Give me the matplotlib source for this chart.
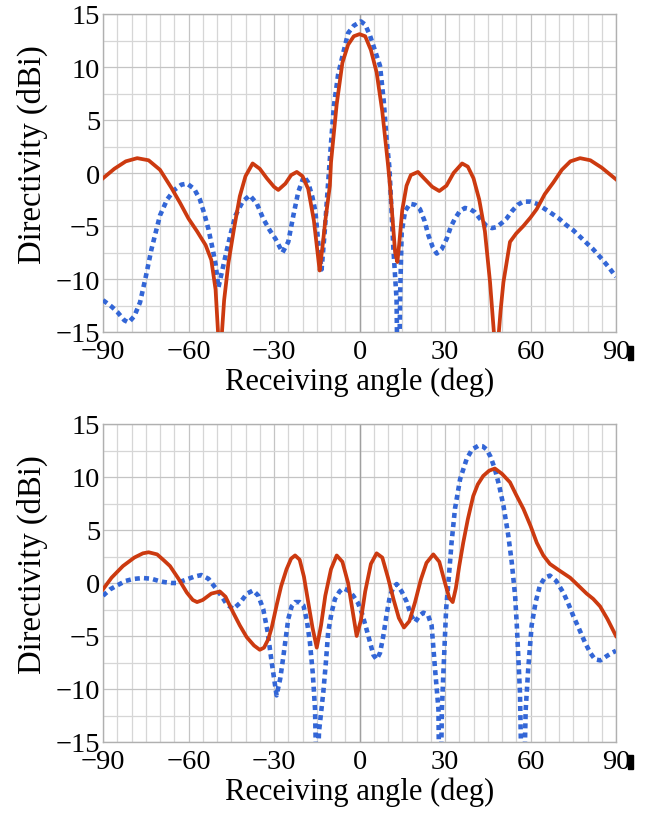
import matplotlib
matplotlib.use("Agg")
import matplotlib.pyplot as plt
from matplotlib.patches import Rectangle
from matplotlib.ticker import MultipleLocator

plt.rcParams["font.family"] = ["Liberation Serif", "DejaVu Serif"]
plt.rcParams["axes.unicode_minus"] = True

# ---- upper panel: broadside beam ----
top_red_ang = [-90, -86, -82, -78, -74, -70, -66, -63, -60, -57, -54, -52, -50.5, -49,
               -47.5, -46, -44, -42, -40, -37.5, -35, -32.5, -30, -28.5, -26, -24, -22,
               -20, -18, -16, -14.5, -14, -13, -12, -10.4, -10, -8, -6, -4, -2, 0,
               2, 4, 6, 8, 10, 10.7, 11.5, 12.5, 13.3, 14, 15, 16.5, 18, 20.5, 23, 25.5,
               28, 30.5, 33, 36, 38, 40, 42, 44, 45.8, 48, 49.5, 50.5, 52.8, 55, 57.5,
               60, 62.2, 65, 68, 71, 74, 77.4, 81, 85, 90]
top_red_val = [-0.5, 0.4, 1.1, 1.4, 1.2, 0.3, -1.4, -2.8, -4.3, -5.5, -6.8, -8.2, -11, -18,
               -12, -8.5, -5.2, -2.2, -0.3, 0.9, 0.4, -0.5, -1.3, -1.6, -1.0, -0.2, 0.1,
               -0.3, -1.5, -4.5, -8.0, -9.2, -7.0, -4.5, -1.2, 1.0, 6.5, 10.4, 12.1, 12.9, 13.1,
               12.9, 11.6, 9.5, 5.8, 0.8, -1.2, -4.0, -7.5, -8.4, -6.5, -3.5, -1.2, -0.2, 0.1,
               -0.6, -1.3, -1.7, -1.2, 0.0, 0.9, 0.6, -0.5, -2.5, -5.5, -10.3, -18, -13,
               -10.3, -6.5, -5.7, -5.0, -4.2, -3.4, -2.0, -0.9, 0.3, 1.1, 1.4, 1.2, 0.5, -0.6]

top_blue_ang = [-90, -87, -85, -82.5, -81, -79, -77, -75, -73, -70, -67.5, -65, -62.5, -60.5,
                -58, -56, -54.5, -53, -51.5, -50.5, -49.5, -48, -46.5, -45, -43.5, -41,
                -38.5, -36, -33.8, -31.5, -29.5, -27, -25, -23.2, -21.5, -19.5, -18, -16.5,
                -15.5, -14.5, -13.3, -12.2, -11, -10, -9, -7.5, -6, -4, -2, 0.5, 2, 3.7,
                5.5, 7.2, 8.5, 9.5, 10.5, 11.9, 13, 13.6, 14.3, 14.8, 16, 17.7, 19.5, 21.2,
                22.8, 24.2, 25.7, 27.1, 28.8, 30.6, 32, 33.5, 35.2, 37, 38.8, 40.5, 42.5,
                44.6, 46.5, 48.1, 50, 51.6, 53.5, 55.5, 57.5, 60, 62.2, 64.5, 66.8, 70,
                72.5, 75, 78.5, 82, 85, 87.5, 90]
top_blue_val = [-12.0, -12.6, -13.1, -13.9, -14.1, -13.5, -12.2, -9.8, -7.2, -4.0, -2.5, -1.6,
                -1.1, -1.0, -1.5, -2.5, -3.8, -5.3, -7.2, -8.6, -10.8, -9.0, -7.2, -5.5,
                -4.0, -2.7, -2.1, -2.9, -4.3, -5.4, -6.2, -7.5, -6.5, -4.0, -1.8, -0.3,
                -0.9, -2.3, -3.6, -6.5, -9.1, -5.5, -0.9, 2.8, 6.3, 9.3, 11.0, 13.2, 13.9,
                14.3, 14.0, 12.95, 11.5, 10.1, 6.8, 3.2, 0.5, -7.2, -11.9, -25, -11, -5.6,
                -3.6, -2.9, -3.0, -3.4, -4.5, -5.9, -7.0, -7.6, -7.2, -6.2, -5.1, -4.3,
                -3.6, -3.3, -3.4, -3.7, -4.4, -5.0, -5.2, -5.1, -4.7, -4.3, -3.6, -3.0,
                -2.7, -2.7, -2.9, -3.3, -3.7, -4.3, -4.9, -5.4, -6.3, -7.2, -8.1, -8.9, -9.8]

# ---- lower panel: steered beam ----
bot_red_ang = [-90, -87, -83, -79, -76, -74, -71, -68.5, -66.5, -63.5, -60.6, -58.5, -57, -55,
               -52, -49, -47, -44.3, -42, -39.6, -37, -35, -33.5, -32, -30.8, -29, -27.5,
               -25.6, -24, -22.6, -21, -19.5, -18, -16.5, -15, -13.5, -12, -10, -8, -6, -4,
               -2.5, -1, 0.5, 2, 4, 6, 8, 10, 12, 13.8, 15.6, 17.5, 19.5, 21.5, 23.5, 25.9,
               28, 30, 31.5, 32.7, 33.8, 35, 36.4, 38, 39.9, 41.5, 43.4, 45.5, 47.5, 50,
               52.8, 55, 57.5, 60, 62.2, 64.5, 66.8, 70, 73.9, 77, 79.7, 82, 84.4, 87, 90]
bot_red_val = [-0.6, 0.5, 1.6, 2.4, 2.8, 2.9, 2.7, 2.1, 1.6, 0.4, -0.9, -1.6, -1.8, -1.6,
               -1.0, -0.8, -1.3, -2.8, -4.0, -5.1, -5.9, -6.3, -6.1, -5.3, -4.2, -2.0, -0.3,
               1.3, 2.3, 2.6, 2.2, 0.6, -1.8, -4.2, -6.1, -4.0, -1.2, 1.3, 2.6, 2.0, 0.0,
               -2.5, -5.0, -3.5, -0.8, 1.8, 2.8, 2.4, 0.5, -1.6, -3.3, -4.2, -3.6, -1.8, 0.3,
               1.9, 2.7, 2.0, 0.0, -1.4, -1.8, -0.5, 1.6, 3.8, 6.0, 8.2, 9.3, 10.1, 10.6,
               10.8, 10.3, 9.5, 8.3, 7.0, 5.4, 3.8, 2.6, 1.8, 1.2, 0.5, -0.3, -1.0, -1.5,
               -2.2, -3.4, -5.0]

bot_blue_ang = [-90, -87.5, -85.2, -82, -79.4, -76, -73, -70.5, -68.8, -66, -64.1, -61, -58,
                -55.5, -53, -51, -50.1, -48, -46.6, -44.3, -42, -39.5, -37.3, -35.5, -33.8,
                -32.3, -30.8, -29.1, -27.8, -26.7, -25, -23.8, -22.6, -21, -19.7, -18.5,
                -17.4, -16.4, -15.6, -15, -14.2, -12.7, -11.8, -11, -9.8, -8.6, -7, -5.7,
                -4, -2.2, -0.5, 0.8, 2.3, 3.7, 4.9, 6.0, 7.2, 8.35, 9.5, 10.7, 11.9, 13.05,
                14.8, 16.6, 18, 19.5, 21, 22.4, 24, 25.3, 26.5, 27.7, 28.2, 28.9, 29.4, 30.4,
                31.2, 32.3, 33.5, 35.3, 37.6, 39.5, 41.7, 43.2, 44.6, 46, 47.5, 49, 50.5,
                52.2, 53.4, 54.6, 55.2, 56.3, 57.3, 58.3, 59.2, 60.4, 61.8, 63.3, 65, 66.8,
                69, 71.5, 73.2, 75, 77, 79.1, 81, 82.6, 84.5, 86.7, 88.5, 90]
bot_blue_val = [-1.2, -0.6, -0.25, 0.2, 0.38, 0.47, 0.4, 0.2, 0.1, 0.0, 0.0, 0.3, 0.6, 0.75,
                0.4, -0.3, -0.6, -1.4, -2.0, -2.45, -1.9, -1.0, -0.7, -1.2, -2.45, -4.5,
                -7.5, -10.6, -9.0, -6.9, -3.4, -2.2, -1.8, -1.8, -2.1, -3.5, -5.6, -8.5,
                -11.9, -20, -14, -10.3, -7.5, -4.65, -2.8, -1.5, -0.8, -0.5, -0.7, -1.2,
                -1.9, -2.8, -4.2, -5.6, -6.8, -7.2, -6.6, -5.0, -3.0, -1.2, -0.4, -0.1,
                -0.8, -1.8, -3.0, -3.7, -3.1, -2.8, -3.0, -4.0, -8.1, -11.9, -25, -12, -8.7,
                -2.45, 0.07, 3.8, 7.0, 9.8, 11.7, 12.6, 12.95, 12.9, 12.6, 11.9, 10.75, 9.2,
                7.3, 4.5, 2.0, -1.2, -4.0, -10.3, -25, -12, -8.1, -4.0, -1.8, -0.25, 0.5,
                0.7, 0.2, -0.9, -1.9, -3.1, -4.3, -5.6, -6.6, -7.2, -7.3, -6.9, -6.6, -6.4]

x_ticks = [-90, -60, -30, 0, 30, 60, 90]
y_ticks = [15, 10, 5, 0, -5, -10, -15]

RED = "#cc3a10"
BLUE = "#3366d6"
W, H = 657, 820

fig = plt.figure(figsize=(W / 100, H / 100), dpi=100)


def panel(top_px, bottom_px, red_ang, red_val, blue_ang, blue_val):
    ax = fig.add_axes([103 / W, 1 - bottom_px / H, (616 - 103) / W, (bottom_px - top_px) / H])
    ax.set_xlim(-90, 90)
    ax.set_ylim(-15, 15)
    ax.xaxis.set_minor_locator(MultipleLocator(5))
    ax.yaxis.set_minor_locator(MultipleLocator(2.5))
    ax.set_xticks(x_ticks)
    ax.set_yticks(y_ticks)
    ax.grid(which="minor", color="#d6d6d6", lw=0.9)
    ax.grid(which="major", color="#c4c4c4", lw=0.9)
    ax.axvline(0, color="#a0a0a0", lw=1.0, zorder=1)
    ax.set_axisbelow(True)
    for s in ax.spines.values():
        s.set_color("#b0b0b0")
        s.set_linewidth(1.0)
    ax.tick_params(which="both", length=0, labelsize=20.5)
    ax.tick_params(axis="x", pad=5)
    ax.tick_params(axis="y", pad=2)
    ax.plot(blue_ang, blue_val, color=BLUE, lw=3.3, ls=(0, (1.1, 0.9)), zorder=3)
    ax.plot(red_ang, red_val, color=RED, lw=2.7, zorder=4, solid_joinstyle="round")
    ax.set_xlabel("Receiving angle (deg)", fontsize=22, labelpad=2)
    ax.set_ylabel("Directivity (dBi)", fontsize=23.5)
    ax.yaxis.set_label_coords(-0.108, 0.56)
    return ax


panel(15, 333, top_red_ang, top_red_val, top_blue_ang, top_blue_val)
panel(425, 743, bot_red_ang, bot_red_val, bot_blue_ang, bot_blue_val)

# small dark marks beside the last tick labels
for y0 in (347, 756):
    fig.patches.append(Rectangle((628 / W, 1 - (y0 + 14) / H), 5 / W, 14 / H,
                                 transform=fig.transFigure, color="black"))

fig.savefig("out.png", dpi=100)
